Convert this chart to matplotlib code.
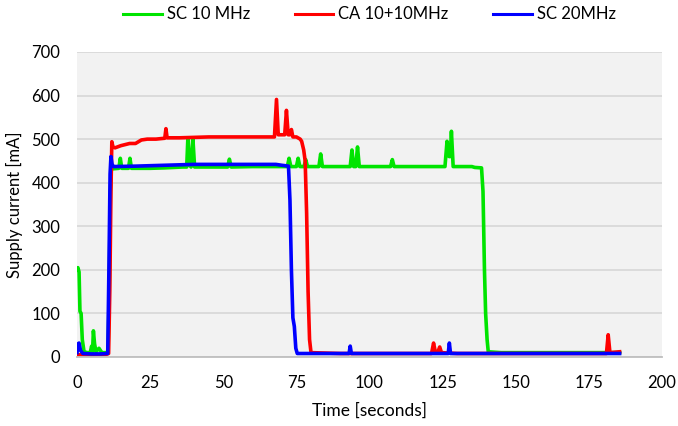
import numpy as np
import matplotlib
matplotlib.use("Agg")
import matplotlib.pyplot as plt

plt.rcParams['font.family'] = ['Lato', 'DejaVu Sans']

# SC 10 MHz (green)
sc10_t = [0, 0.3, 0.7, 1.0, 1.4, 1.8, 2.4, 3.5, 4.5, 5.0, 5.3, 5.6, 6.0, 6.5, 7.5, 8.5, 10.6,
          11.0, 11.4, 11.8, 12.5, 14.3, 14.8, 15.3, 17.6, 18.1, 18.6, 25, 30, 36, 37.5, 37.9,
          38.5, 39.0, 39.6, 40.2, 45, 51.5, 52.1, 52.7, 60, 70, 71.9, 72.5, 73.1, 75.0, 75.6,
          76.2, 77.6, 78.2, 78.8, 82.7, 83.3, 83.9, 90, 93.4, 94.0, 94.6, 95.3, 95.9, 96.5, 100,
          107.2, 107.8, 108.4, 115, 125.8, 126.5, 127.2, 127.6, 128.0, 128.6, 135, 136, 138.3,
          138.8, 139.3, 139.7, 140.2, 140.6, 145, 160, 175, 185.5]
sc10_v = [200, 205, 195, 105, 100, 40, 12, 10, 10, 25, 12, 60, 30, 12, 20, 10, 10,
          150, 380, 440, 432, 433, 456, 433, 433, 456, 433, 433, 434, 436, 436, 503,
          440, 436, 503, 436, 436, 436, 454, 436, 437, 437, 437, 456, 437, 437, 456,
          437, 437, 453, 437, 437, 466, 437, 437, 437, 475, 437, 437, 482, 437, 437,
          437, 453, 437, 437, 437, 495, 460, 460, 518, 437, 437, 435, 434,
          380, 200, 100, 40, 12, 10, 10, 10, 10]

# CA 10+10MHz (red)
ca_t = [0, 5, 10, 10.8, 11.2, 11.6, 11.9, 12.3, 13, 15, 18, 20, 22, 24, 27, 30, 30.4, 30.8,
        31.3, 35, 45, 55, 67.5, 68.2, 68.8, 69.3, 71.0, 71.6, 72.2, 72.8, 73.3, 73.8, 75, 76.3,
        76.8, 77.5, 78.0, 78.5, 79.0, 79.5, 80.0, 90, 100, 110, 121.2, 121.9, 122.5, 123.3, 124,
        124.6, 130, 150, 170, 181, 181.6, 182.2, 185.5]
ca_v = [5, 5, 6, 8, 150, 380, 494, 482, 480, 485, 490, 490, 498, 500, 500, 502, 524, 503,
        503, 503, 505, 505, 505, 591, 510, 510, 510, 566, 510, 510, 522, 505, 505, 500,
        495, 475, 450, 330, 150, 40, 10, 8, 8, 8, 8, 32, 12, 10, 23,
        10, 8, 8, 8, 8, 51, 10, 12]

# SC 20MHz (blue)
sc20_t = [0, 0.3, 0.7, 1.2, 2, 5, 8, 10.5, 10.9, 11.3, 11.6, 12.0, 12.5, 20, 30, 40, 50, 60,
          68, 70, 72.3, 72.8, 73.3, 73.8, 74.3, 74.8, 75.3, 80, 90, 93.0, 93.4, 93.8, 100, 110,
          120, 126.9, 127.3, 127.7, 140, 160, 185.5]
sc20_v = [10, 30, 32, 15, 8, 7, 7, 8, 200, 420, 460, 442, 437, 438, 440, 442, 442, 442,
          442, 440, 438, 360, 200, 90, 70, 20, 8, 8, 8, 8, 25, 8, 8, 8,
          8, 8, 32, 8, 8, 8, 8]

fig = plt.figure(figsize=(6.78, 4.26), dpi=100)
ax = fig.add_axes([0.1136, 0.162, 0.8628, 0.716])
ax.set_facecolor('#f2f2f2')

ax.plot(sc10_t, sc10_v, color='#00e400', lw=2.6, label='SC 10 MHz', solid_joinstyle='round')
ax.plot(ca_t, ca_v, color='#ff0000', lw=2.6, label='CA 10+10MHz', solid_joinstyle='round')
ax.plot(sc20_t, sc20_v, color='#0000ff', lw=2.6, label='SC 20MHz', solid_joinstyle='round')

ax.set_xlim(0, 200)
ax.set_ylim(0, 700)
ax.set_xticks(np.arange(0, 201, 25))
ax.set_yticks(np.arange(0, 701, 100))
ax.yaxis.grid(True, color='#d9d9d9', lw=1.3)
ax.set_axisbelow(True)
for s in ['top', 'right', 'left']:
    ax.spines[s].set_visible(False)
ax.spines['bottom'].set_color('#bfbfbf')
ax.spines['bottom'].set_linewidth(1.3)
ax.tick_params(axis='both', length=0, labelsize=12)
ax.tick_params(axis='x', pad=13)
ax.tick_params(axis='y', pad=12)

ax.set_xlabel('Time [seconds]', fontsize=12.5, labelpad=8)
ax.set_ylabel('Supply current [mA]', fontsize=12, labelpad=6)

leg = fig.legend(loc='upper center', bbox_to_anchor=(0.545, 1.02), ncol=3, frameon=False,
                 fontsize=12, handlelength=2.3, columnspacing=2.7, handletextpad=0.3)
for l in leg.get_lines():
    l.set_linewidth(2.2)

fig.savefig('out.png', dpi=100)
